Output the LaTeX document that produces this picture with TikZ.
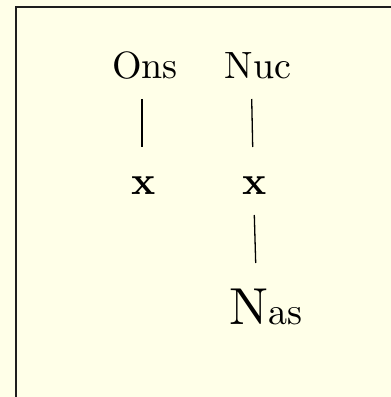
\documentclass[tikz,border=0pt]{standalone}
\usepackage{fontspec}
\setmainfont{lmroman10-regular.otf}[BoldFont=lmroman10-bold.otf]
\definecolor{bgyellow}{RGB}{255,255,232}
\definecolor{framegray}{RGB}{30,30,30}
\tikzset{
  lbl/.style={inner sep=0pt, anchor=base, font=\fontsize{38}{44}\selectfont},
  slot/.style={inner sep=0pt, anchor=base, font=\fontsize{40}{46}\selectfont\bfseries},
  assoc/.style={line width=1.3pt, draw=black}
}
\begin{document}
\begin{tikzpicture}[x=1pt,y=1pt]
\useasboundingbox (0,0) rectangle (391,397);
\fill[bgyellow] (0,0) rectangle (391,397);
\clip (0,0) rectangle (391,397);
\draw[framegray, line width=2.4pt] (16,-20) rectangle (420,390);
\node[lbl] (ons) at (145,318) {Ons};
\node[lbl] (nuc) at (258,318) {Nuc};
\node[slot] (x1) at (144,202) {x};
\node[slot] (x2) at (255,202) {x};
\node[lbl] (nas) at (266,72) {{\fontsize{52}{58}\selectfont N}as};
\draw[assoc] ([xshift=-3pt,yshift=-20pt]ons.base) -- ([xshift=-2pt,yshift=48pt]x1.base);
\draw[assoc] ([xshift=-6.3pt,yshift=-20pt]nuc.base) -- ([xshift=-2.3pt,yshift=48pt]x2.base);
\draw[assoc] ([xshift=-0.7pt,yshift=-20pt]x2.base) -- ([xshift=-10.3pt,yshift=62pt]nas.base);
\end{tikzpicture}
\end{document}
